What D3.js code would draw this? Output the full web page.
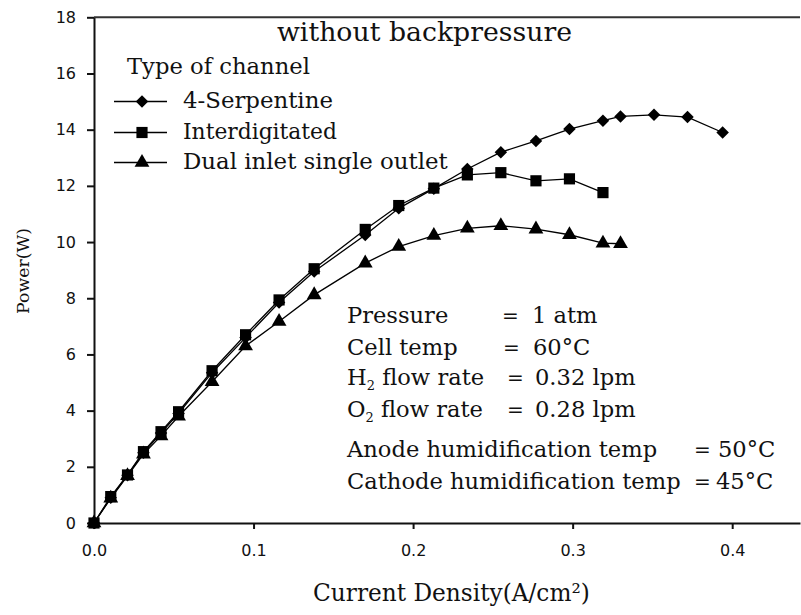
<!DOCTYPE html>
<html>
<head>
<meta charset="utf-8">
<script src="https://cdn.jsdelivr.net/npm/d3@7"></script>
<style>
  html, body { margin: 0; padding: 0; background: #fff; }
  svg { display: block; }
</style>
</head>
<body>
<svg id="chart" width="801" height="615"></svg>
<script>
// ---------------- data ----------------
const seriesNames = ["4-Serpentine", "Interdigitated", "Dual inlet single outlet"];

const xSerpentine = [0, 0.0105, 0.021, 0.031, 0.042, 0.053, 0.074, 0.095, 0.116, 0.138, 0.170, 0.191, 0.213, 0.234, 0.255, 0.277, 0.298, 0.319, 0.330, 0.351, 0.372, 0.394];
const ySerpentine = [0, 0.90, 1.70, 2.50, 3.20, 3.90, 5.35, 6.60, 7.85, 8.95, 10.25, 11.20, 11.90, 12.60, 13.20, 13.60, 14.02, 14.32, 14.47, 14.53, 14.45, 13.90];

const xInterdigitated = [0, 0.0105, 0.021, 0.031, 0.042, 0.053, 0.074, 0.095, 0.116, 0.138, 0.170, 0.191, 0.213, 0.234, 0.255, 0.277, 0.298, 0.319];
const yInterdigitated = [0, 0.94, 1.71, 2.54, 3.25, 3.96, 5.42, 6.70, 7.94, 9.05, 10.45, 11.30, 11.92, 12.39, 12.47, 12.18, 12.25, 11.76];

const xDual = [0, 0.0105, 0.021, 0.031, 0.042, 0.053, 0.074, 0.095, 0.116, 0.138, 0.170, 0.191, 0.213, 0.234, 0.255, 0.277, 0.298, 0.319, 0.330];
const yDual = [0, 0.88, 1.68, 2.45, 3.10, 3.80, 5.03, 6.30, 7.17, 8.12, 9.25, 9.84, 10.23, 10.49, 10.58, 10.46, 10.26, 9.96, 9.94];

const xTicks = [0, 0.1, 0.2, 0.3, 0.4];
const yTicks = [0, 2, 4, 6, 8, 10, 12, 14, 16, 18];

const titleText = "without backpressure";
const legendTitle = "Type of channel";
const xLabel = "Current Density(A/cm²)";
const yLabel = "Power(W)";

// ---------------- drawing ----------------
const svg = d3.select("#chart");
const serif = "'DejaVu Serif', serif";
const sans = "'DejaVu Sans', sans-serif";

const x = d3.scaleLinear().domain([0, 0.4425]).range([94, 800]);
const y = d3.scaleLinear().domain([0, 18]).range([523, 17.3]);

function fitWidth(sel, target) {
  const w = sel.node().getComputedTextLength();
  const fs = parseFloat(sel.style("font-size"));
  sel.style("font-size", (fs * target / w) + "px");
}

// axes
const xAxis = svg.append("g")
  .attr("transform", `translate(0,${y(0)})`)
  .call(d3.axisBottom(x).tickValues(xTicks).tickFormat(d3.format(".1f")).tickSize(6).tickSizeOuter(0).tickPadding(16));
const yAxis = svg.append("g")
  .attr("transform", `translate(${x(0)},0)`)
  .call(d3.axisLeft(y).tickValues(yTicks).tickFormat(d3.format("d")).tickSize(7).tickSizeOuter(0).tickPadding(11));

[xAxis, yAxis].forEach(g => {
  g.select(".domain").attr("stroke", "#111").attr("stroke-width", 2);
  g.selectAll(".tick line").attr("stroke", "#111").attr("stroke-width", 2);
  g.selectAll(".tick text").attr("fill", "#111").style("font-family", sans).style("font-size", "16px");
});

// top frame line
svg.append("line")
  .attr("x1", x(0)).attr("x2", x.range()[1])
  .attr("y1", y(18)).attr("y2", y(18))
  .attr("stroke", "#333").attr("stroke-width", 2);

const series = [
  { name: seriesNames[0], xs: xSerpentine, ys: ySerpentine, sym: d3.symbolSquare, size: 78, rot: 45 },
  { name: seriesNames[1], xs: xInterdigitated, ys: yInterdigitated, sym: d3.symbolSquare, size: 125, rot: 0 },
  { name: seriesNames[2], xs: xDual, ys: yDual, sym: d3.symbolTriangle, size: 95, rot: 0 }
];

const line = d3.line().x(d => x(d[0])).y(d => y(d[1]));

[series[2], series[0], series[1]].forEach(s => {
  const pts = s.xs.map((v, i) => [v, s.ys[i]]);
  svg.append("path").datum(pts)
    .attr("d", line).attr("fill", "none").attr("stroke", "#000").attr("stroke-width", 1.3);
  svg.append("g").selectAll("path").data(pts).join("path")
    .attr("d", d3.symbol().type(s.sym).size(s.size))
    .attr("transform", d => `translate(${x(d[0])},${y(d[1])}) rotate(${s.rot})`)
    .attr("fill", "#000");
});

// title
const t = svg.append("text").attr("x", 277).attr("y", 41)
  .style("font-family", serif).style("font-size", "24px").attr("fill", "#111").text(titleText);
fitWidth(t, 295);

// legend
const lt = svg.append("text").attr("x", 127).attr("y", 74)
  .style("font-family", serif).style("font-size", "22px").attr("fill", "#111").text(legendTitle);
fitWidth(lt, 183);

const legendY = [101.5, 132.5, 162.5];
const legendW = [150, 154, 265];
series.forEach((s, i) => {
  const g = svg.append("g");
  g.append("line").attr("x1", 114).attr("x2", 167).attr("y1", legendY[i]).attr("y2", legendY[i])
    .attr("stroke", "#000").attr("stroke-width", 1.3);
  g.append("path").attr("d", d3.symbol().type(s.sym).size(s.size)())
    .attr("transform", `translate(142,${legendY[i]}) rotate(${s.rot})`).attr("fill", "#000");
  const tx = g.append("text").attr("x", 183).attr("y", legendY[i] + 6.5)
    .style("font-family", serif).style("font-size", "22px").attr("fill", "#111").text(s.name);
  fitWidth(tx, legendW[i]);
});

// conditions annotation
const annoFont = "22.6px";
const annoRows = [
  { y: 323, label: ["Pressure"], eqX: 502, valX: 532, val: "1 atm" },
  { y: 355, label: ["Cell temp"], eqX: 503, valX: 533, val: "60°C" },
  { y: 385, label: ["H", "2", " flow rate"], eqX: 507, valX: 535, val: "0.32 lpm" },
  { y: 417, label: ["O", "2", " flow rate"], eqX: 507, valX: 535, val: "0.28 lpm" },
  { y: 457, label: ["Anode humidification temp"], eqX: 694, valX: 718, val: "50°C" },
  { y: 489, label: ["Cathode humidification temp"], eqX: 694, valX: 716, val: "45°C" }
];
annoRows.forEach(r => {
  const lab = svg.append("text").attr("x", 347).attr("y", r.y)
    .style("font-family", serif).style("font-size", annoFont).attr("fill", "#111");
  if (r.label.length === 1) {
    lab.text(r.label[0]);
  } else {
    lab.append("tspan").text(r.label[0]);
    lab.append("tspan").attr("dy", 5).style("font-size", "13px").text(r.label[1]);
    lab.append("tspan").attr("dy", -5).text(r.label[2]);
  }
  svg.append("text").attr("x", r.eqX).attr("y", r.y)
    .style("font-family", serif).style("font-size", "20px").attr("fill", "#111").text("=");
  svg.append("text").attr("x", r.valX).attr("y", r.y)
    .style("font-family", serif).style("font-size", annoFont).attr("fill", "#111").text(r.val);
});

// axis labels
const xl = svg.append("text").attr("x", 313).attr("y", 601)
  .style("font-family", serif).style("font-size", "20px").attr("fill", "#111").text(xLabel);
fitWidth(xl, 277);

const yl = svg.append("text")
  .attr("transform", "translate(29,271) rotate(-90)")
  .attr("text-anchor", "middle")
  .style("font-family", serif).style("font-size", "16px").attr("fill", "#111").text(yLabel);
fitWidth(yl, 86);
</script>
</body>
</html>
